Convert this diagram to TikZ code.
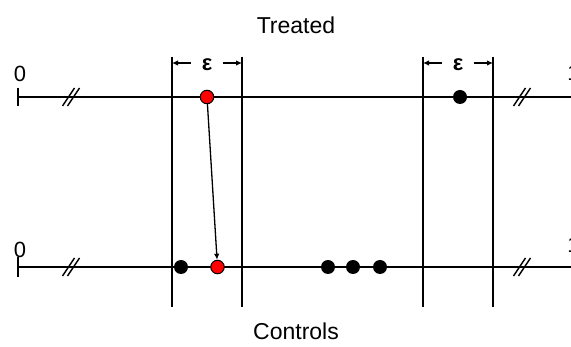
\documentclass[tikz,border=0pt]{standalone}
\usepackage{fontspec}
\setmainfont{Liberation Sans}
\usetikzlibrary{arrows.meta}
\tikzset{
  axis/.style={line width=1.8pt},
  brk/.style={line width=1.4pt},
  dot/.style={circle,fill=black,inner sep=0pt,minimum size=14pt},
  reddot/.style={circle,draw=black,fill=red,line width=1pt,inner sep=0pt,minimum size=13.5pt},
  num/.style={font=\fontsize{22}{26}\selectfont,inner sep=0pt},
  eps/.style={font=\fontsize{22}{26}\selectfont\bfseries,inner ysep=0pt,inner xsep=11pt},
  ttl/.style={font=\fontsize{23}{27}\selectfont,inner sep=0pt},
  ar/.style={line width=1.3pt,-{Latex[length=6pt,width=5.5pt]}}
}
\begin{document}
\begin{tikzpicture}[x=1pt,y=-1pt]
  \useasboundingbox (0,0) rectangle (571,347);
  \coordinate (t0) at (18,97);
  \coordinate (t1) at (571,97);
  \coordinate (c0) at (18,267);
  \coordinate (c1) at (571,267);
  \draw[axis] (t0) -- (t1);
  \draw[axis] (c0) -- (c1);
  \draw[axis] ([yshift=9pt]t0) -- ([yshift=-9pt]t0);
  \draw[axis] ([yshift=10pt]c0) -- ([yshift=-10pt]c0);
  \foreach \x/\y in {71/97,71/267,522/97,522/267}{
    \draw[brk] (\x-8.5,\y+9) -- (\x+3.5,\y-9);
    \draw[brk] (\x-3.5,\y+9) -- (\x+8.5,\y-9);
  }
  \foreach \n/\x in {a1/172,a2/242,b1/423,b2/493}{
    \coordinate (\n) at (\x,57);
    \draw[axis] (\n) -- (\x,307);
  }
  \node[num] (zt) at (20,74) {0};
  \node[num] (zc) at (20,249.5) {0};
  \node[num] (ot) at (573.5,73) {1};
  \node[num] (oc) at (573.5,245) {1};
  \node[ttl] (treated) at (296,25) {Treated};
  \node[ttl] (controls) at (296,331) {Controls};
  \node[eps] (e1) at (207,65) {ε};
  \node[eps] (e2) at (458,65) {ε};
  \draw[ar] ([yshift=2pt]e1.west) -- ([yshift=2pt]e1.west -| a1);
  \draw[ar] ([yshift=2pt]e1.east) -- ([yshift=2pt]e1.east -| a2);
  \draw[ar] ([yshift=2pt]e2.west) -- ([yshift=2pt]e2.west -| b1);
  \draw[ar] ([yshift=2pt]e2.east) -- ([yshift=2pt]e2.east -| b2);
  \node[reddot] (tr) at (207,97) {};
  \node[dot] (tb) at (460,97) {};
  \node[dot] (cb1) at (181,267) {};
  \node[reddot] (cr) at (217.5,267) {};
  \node[dot] (cb2) at (328,267) {};
  \node[dot] (cb3) at (353,267) {};
  \node[dot] (cb4) at (380,267) {};
  \draw[ar] (tr) -- (cr);
\end{tikzpicture}
\end{document}
